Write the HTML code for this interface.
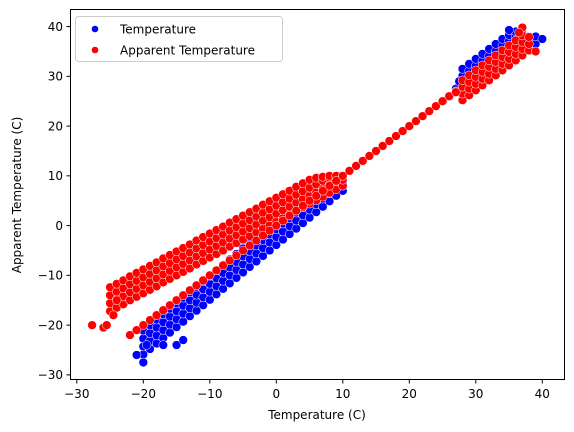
<!DOCTYPE html>
<html><head><meta charset="utf-8">
<style>
html,body{margin:0;padding:0;background:#fff;}
svg{display:block;font-family:"DejaVu Sans","Liberation Sans",sans-serif;}
</style></head>
<body>
<svg id="chart" width="574" height="432" viewBox="0 0 574 432" xmlns="http://www.w3.org/2000/svg">
<g id="marks"></g>
<rect x="70.5" y="9.5" width="494" height="370" fill="none" stroke="#000" stroke-width="1"/>
<g id="xticks"></g>
<g id="yticks"></g>
<text x="317" y="419" font-size="12" text-anchor="middle">Temperature (C)</text>
<text transform="translate(21,195) rotate(-90)" font-size="12" text-anchor="middle">Apparent Temperature (C)</text>
<g>
<rect x="75.5" y="16.5" width="207" height="45" rx="3" fill="#fff" fill-opacity="0.8" stroke="#ccc"/>
<circle cx="95" cy="29" r="3.3" fill="#0000ff"/>
<text x="120" y="33.5" font-size="12">Temperature</text>
<circle cx="95" cy="50" r="3.3" fill="#ff0000"/>
<text x="120" y="54.5" font-size="12">Apparent Temperature</text>
</g>
</svg>
<script>
const xTickValues = [-30,-20,-10,0,10,20,30,40];
const yTickValues = [-30,-20,-10,0,10,20,30,40];

const blueBand = [
[-20,-25.9],[-20,-24.3],[-20,-22.7],[-20,-21.1],
[-19,-24.8],[-19,-23.2],[-19,-21.6],[-19,-20.0],
[-18,-23.7],[-18,-22.1],[-18,-20.5],[-18,-18.9],
[-17,-22.6],[-17,-21.0],[-17,-19.4],[-17,-17.8],
[-16,-21.5],[-16,-19.9],[-16,-18.3],[-16,-16.7],
[-15,-20.4],[-15,-18.8],[-15,-17.2],[-15,-15.6],
[-14,-19.3],[-14,-17.7],[-14,-16.1],[-14,-14.5],
[-13,-18.2],[-13,-16.6],[-13,-15.0],[-13,-13.4],
[-12,-17.1],[-12,-15.5],[-12,-13.9],[-12,-12.3],
[-11,-16.0],[-11,-14.4],[-11,-12.8],[-11,-11.2],
[-10,-14.9],[-10,-13.3],[-10,-11.7],[-10,-10.1],
[-9,-13.8],[-9,-12.2],[-9,-10.6],[-9,-9.0],
[-8,-12.7],[-8,-11.1],[-8,-9.5],[-8,-7.9],
[-7,-11.6],[-7,-10.0],[-7,-8.4],[-7,-6.8],
[-6,-10.5],[-6,-8.9],[-6,-7.3],[-6,-5.7],
[-5,-9.4],[-5,-7.8],[-5,-6.2],[-5,-4.6],
[-4,-8.3],[-4,-6.7],[-4,-5.1],[-4,-3.5],
[-3,-7.2],[-3,-5.6],[-3,-4.0],[-3,-2.4],
[-2,-6.1],[-2,-4.5],[-2,-2.9],[-2,-1.3],
[-1,-5.0],[-1,-3.4],[-1,-1.8],[-1,-0.2],
[0,-3.9],[0,-2.3],[0,-0.7],[0,0.9],
[1,-2.8],[1,-1.2],[1,0.4],[1,2.0],
[2,-1.7],[2,-0.1],[2,1.5],[2,3.1],
[3,-0.6],[3,1.0],[3,2.6],[3,4.2],
[4,0.5],[4,2.1],[4,3.7],[4,5.3],
[5,1.6],[5,3.2],[5,4.8],[5,6.4],
[6,2.7],[6,4.3],[6,5.9],[6,7.5],
[7,3.8],[7,5.4],[7,7.0],[7,8.6],
[8,4.9],[8,6.5],[8,8.1],[8,9.7],
[9,6.0],[9,7.6],[9,9.2],[9,10.0],
[10,7.0],[10,8.5],[10,9.5],[10,10.0],
[-20,-27.5],[-21,-26],[-19.5,-24],[-17,-24],[-15,-24],[-14,-23]
];
const blueLine = [[11,11],[12,12],[13,13],[14,14],[15,15],[16,16],[17,17],[18,18],[19,19],[20,20],[21,21],[22,22],[23,23],[24,24],[25,25],[26,26],[27,27]];
const blueHot = [
[28,25.3],[28,26.9],[28,28.5],[28,30.1],[28,31.5],
[29,26.3],[29,27.9],[29,29.5],[29,31.1],[29,32.5],
[30,27.3],[30,28.9],[30,30.5],[30,32.1],[30,33.5],
[31,28.3],[31,29.9],[31,31.5],[31,33.1],[31,34.5],
[32,29.3],[32,30.9],[32,32.5],[32,34.1],[32,35.5],
[33,30.3],[33,31.9],[33,33.5],[33,35.1],[33,36.5],
[34,31.3],[34,32.9],[34,34.5],[34,36.1],[34,37.5],
[35,32.3],[35,33.9],[35,35.5],[35,37.1],[35,38.3],
[36,33.3],[36,34.9],[36,36.5],[36,38.1],[36,39.0],
[37,34.3],[37,35.9],[37,37.5],[37,38.5],
[38,35.3],[38,36.9],[38,38.0],
[39,36.5],[39,38.0],[40,37.5],
[35,39.3],[27,27.5],[27.5,29]
];
const redBand = [
[-25,-17.2],[-25,-15.6],[-25,-14.0],[-25,-12.4],
[-24,-16.5],[-24,-14.9],[-24,-13.3],[-24,-11.7],
[-23,-15.8],[-23,-14.2],[-23,-12.6],[-23,-11.0],
[-22,-15.0],[-22,-13.4],[-22,-11.8],[-22,-10.2],
[-21,-14.3],[-21,-12.7],[-21,-11.1],[-21,-9.5],
[-20,-13.6],[-20,-12.0],[-20,-10.4],[-20,-8.8],
[-19,-12.9],[-19,-11.3],[-19,-9.7],[-19,-8.1],
[-18,-12.2],[-18,-10.6],[-18,-9.0],[-18,-7.4],
[-17,-11.4],[-17,-9.8],[-17,-8.2],[-17,-6.6],
[-16,-10.7],[-16,-9.1],[-16,-7.5],[-16,-5.9],
[-15,-10.0],[-15,-8.4],[-15,-6.8],[-15,-5.2],
[-14,-9.3],[-14,-7.7],[-14,-6.1],[-14,-4.5],
[-13,-8.6],[-13,-7.0],[-13,-5.4],[-13,-3.8],
[-12,-7.8],[-12,-6.2],[-12,-4.6],[-12,-3.0],
[-11,-7.1],[-11,-5.5],[-11,-3.9],[-11,-2.3],
[-10,-6.4],[-10,-4.8],[-10,-3.2],[-10,-1.6],
[-9,-5.7],[-9,-4.1],[-9,-2.5],[-9,-0.9],
[-8,-5.0],[-8,-3.4],[-8,-1.8],[-8,-0.2],
[-7,-4.2],[-7,-2.6],[-7,-1.0],[-7,0.6],
[-6,-3.5],[-6,-1.9],[-6,-0.3],[-6,1.3],
[-5,-2.8],[-5,-1.2],[-5,0.4],[-5,2.0],
[-4,-2.1],[-4,-0.5],[-4,1.1],[-4,2.7],
[-3,-1.4],[-3,0.2],[-3,1.8],[-3,3.4],
[-2,-0.6],[-2,1.0],[-2,2.6],[-2,4.2],
[-1,0.1],[-1,1.7],[-1,3.3],[-1,4.9],
[0,0.8],[0,2.4],[0,4.0],[0,5.6],
[1,1.5],[1,3.1],[1,4.7],[1,6.3],
[2,2.2],[2,3.8],[2,5.4],[2,7.0],
[3,3.0],[3,4.6],[3,6.2],[3,7.8],
[4,3.7],[4,5.3],[4,6.9],[4,8.5],
[5,4.4],[5,6.0],[5,7.6],[5,9.2],
[6,5.1],[6,6.7],[6,8.3],[6,9.6],
[7,5.8],[7,7.4],[7,9.0],[7,9.8],
[8,6.6],[8,8.2],[8,9.6],[8,10.0],
[9,7.3],[9,8.9],[9,9.8],[9,10.0],
[10,8.0],[10,9.2],[10,10.0],
[-27.7,-20],[-26,-20.5],[-25.5,-20],[-24.5,-18],[-24,-15]
];
const redLine = [[-22,-22],[-21,-21],[-20,-20],[-19,-19],[-18,-18],[-17,-17],[-16,-16],[-15,-15],[-14,-14],[-13,-13],[-12,-12],[-11,-11],[-10,-10],[-9,-9],[-8,-8],[-7,-7],[-6,-6],[-5,-5],[-4,-4],[-3,-3],[-2,-2],[-1,-1],[0,0],[1,1],[2,2],[3,3],[4,4],[5,5],[6,6],[7,7],[8,8],[9,9],[10,10],[11,11],[12,12],[13,13],[14,14],[15,15],[16,16],[17,17],[18,18],[19,19],[20,20],[21,21],[22,22],[23,23],[24,24],[25,25],[26,26],[27,27]];
const redHot = [
[28,25.2],[28,26.5],[28,27.9],[28,29.2],
[29,26.2],[29,27.5],[29,28.9],[29,30.2],
[30,27.2],[30,28.5],[30,29.9],[30,31.2],
[31,28.2],[31,29.5],[31,30.9],[31,32.2],
[32,29.2],[32,30.5],[32,31.9],[32,33.2],
[33,30.2],[33,31.5],[33,32.9],[33,34.2],
[34,31.2],[34,32.5],[34,33.9],[34,35.2],
[35,32.2],[35,33.5],[35,34.9],[35,36.2],
[36,33.2],[36,34.5],[36,35.9],[36,37.2],
[37,34.2],[37,35.5],[37,36.9],[37,38.2],
[38,35.2],[38,36.5],[38,37.9],
[37,39.8],[39,35],[36.5,38.8],[27,26.8]
];

function xScale(v){ return 276.3 + v*6.65; }
function yScale(v){ return 225.6 - v*4.976; }
const NS = "http://www.w3.org/2000/svg";
const marks = document.getElementById('marks');

function drawSeries(points, color, name){
  const g = document.createElementNS(NS,'g');
  
  
  points.forEach(p => {
    const c = document.createElementNS(NS,'circle');
    c.setAttribute('cx', xScale(p[0]).toFixed(2));
    c.setAttribute('cy', yScale(p[1]).toFixed(2));
    c.setAttribute('r', '4.4');
    c.setAttribute('fill', color);
    c.setAttribute('stroke', '#fff');
    c.setAttribute('stroke-width', '0.5');
    
    
    g.appendChild(c);
  });
  marks.appendChild(g);
}
drawSeries(blueBand, '#0000ff', 'temperature-band');
drawSeries(blueLine, '#0000ff', 'temperature-line');
drawSeries(blueHot, '#0000ff', 'temperature-hot-cluster');
drawSeries(redBand, '#ff0000', 'apparent-band');
drawSeries(redLine, '#ff0000', 'apparent-line');
drawSeries(redHot, '#ff0000', 'apparent-hot-cluster');

const xt = document.getElementById('xticks');
xTickValues.forEach(v => {
  const x = xScale(v);
  const l = document.createElementNS(NS,'line');
  l.setAttribute('x1', x); l.setAttribute('x2', x);
  l.setAttribute('y1', 379.5); l.setAttribute('y2', 383.5);
  l.setAttribute('stroke', '#000');
  
  
  xt.appendChild(l);
  const t = document.createElementNS(NS,'text');
  t.setAttribute('x', x); t.setAttribute('y', 398);
  t.setAttribute('font-size', '12'); t.setAttribute('text-anchor', 'middle');
  t.textContent = v < 0 ? '\u2212' + Math.abs(v) : String(v);
  
  
  xt.appendChild(t);
});
const yt = document.getElementById('yticks');
yTickValues.forEach(v => {
  const y = yScale(v);
  const l = document.createElementNS(NS,'line');
  l.setAttribute('x1', 66.5); l.setAttribute('x2', 70.5);
  l.setAttribute('y1', y); l.setAttribute('y2', y);
  l.setAttribute('stroke', '#000');
  
  
  yt.appendChild(l);
  const t = document.createElementNS(NS,'text');
  t.setAttribute('x', 63); t.setAttribute('y', y + 4.3);
  t.setAttribute('font-size', '12'); t.setAttribute('text-anchor', 'end');
  t.textContent = v < 0 ? '\u2212' + Math.abs(v) : String(v);
  
  
  yt.appendChild(t);
});
</script>
</body></html>
